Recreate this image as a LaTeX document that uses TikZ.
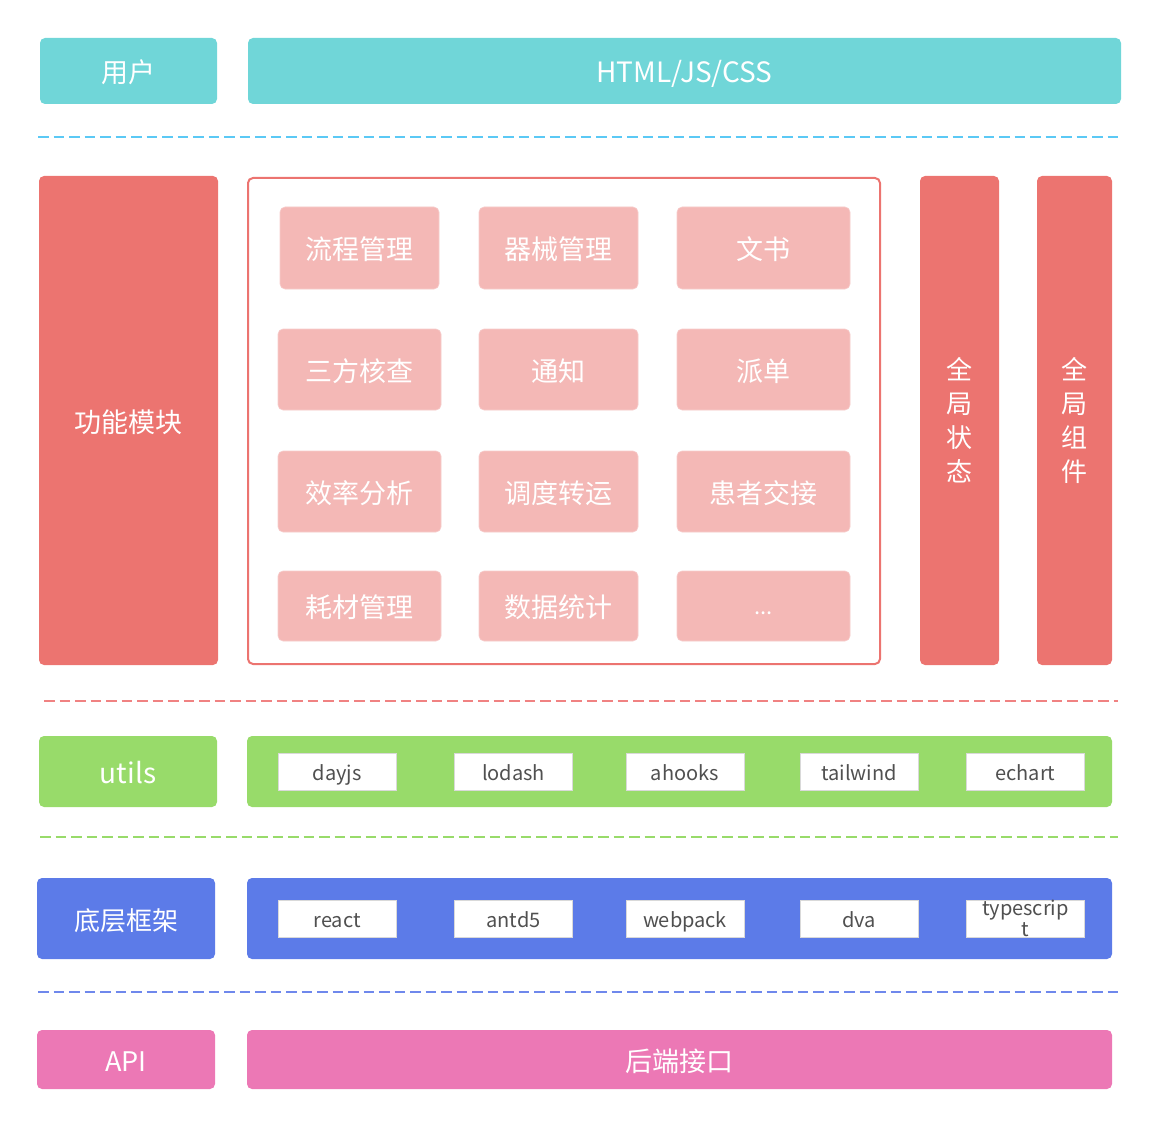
\documentclass[tikz,border=0pt]{standalone}
\usepackage{fontspec}
\setmainfont{Noto Sans CJK SC}
\definecolor{cyanbox}{HTML}{70D6D8}
\definecolor{cyandash}{HTML}{5BC9F5}
\definecolor{redbox}{HTML}{EC7470}
\definecolor{reddash}{HTML}{F08282}
\definecolor{pinkcell}{HTML}{F4B8B6}
\definecolor{greenbox}{HTML}{98DB6A}
\definecolor{bluebox}{HTML}{5C7BE8}
\definecolor{bluedash}{HTML}{6F88EC}
\definecolor{magbox}{HTML}{EC78B5}
\definecolor{graytext}{HTML}{505050}
\tikzset{
  blk/.style={rounded corners=5pt, inner sep=0pt, text=white, font=\fontsize{27}{34}\selectfont, align=center},
  onel/.style={text height=25.6pt, text depth=2pt},
  cell/.style={blk, onel, fill=pinkcell, draw=pinkcell!70!white, line width=0.6pt},
  tagbase/.style={fill=white, draw=white!85!black, line width=0.4pt, inner sep=0pt, minimum width=118, minimum height=37, text=graytext, font=\fontsize{20}{21}\selectfont, align=center},
  tag/.style={tagbase, text height=18pt, text depth=1pt},
  sep/.style={line width=2.6pt, dash pattern=on 10.5pt off 5pt},
}
\begin{document}
\begin{tikzpicture}[x=1pt,y=-1pt]
\useasboundingbox (0,0) rectangle (1159,1126);
% row 1
\node[blk, onel, fill=cyanbox, minimum width=177, minimum height=66] (user) at (128.5,71) {用户};
\node[blk, onel, fill=cyanbox, minimum width=873, minimum height=66, font=\fontsize{28}{30}\selectfont] (html) at (684.5,71) {HTML/JS/CSS};
\draw[sep, cyandash] (38,137) -- (1120,137);
% row 2
\node[blk, onel, fill=redbox, minimum width=179, minimum height=489] (func) at (128.5,420.5) {功能模块};
\node[rounded corners=5pt, draw=redbox, line width=2pt, fill=white, minimum width=632, minimum height=486, inner sep=0pt] (modules) at (564,421) {};
\node[blk, fill=redbox, minimum width=79, minimum height=489, font=\fontsize{26}{34}\selectfont] (state) at (959.5,420.5) {全\\局\\状\\态};
\node[blk, fill=redbox, minimum width=75, minimum height=489, font=\fontsize{26}{34}\selectfont] (comp) at (1074.5,420.5) {全\\局\\组\\件};
% cells
\node[cell, minimum width=159, minimum height=82] (c11) at (359.5,248) {流程管理};
\node[cell, minimum width=159, minimum height=82] (c12) at (558.5,248) {器械管理};
\node[cell, minimum width=173, minimum height=82] (c13) at (763.5,248) {文书};
\node[cell, minimum width=163, minimum height=81] (c21) at (359.5,369.5) {三方核查};
\node[cell, minimum width=159, minimum height=81] (c22) at (558.5,369.5) {通知};
\node[cell, minimum width=173, minimum height=81] (c23) at (763.5,369.5) {派单};
\node[cell, minimum width=163, minimum height=81] (c31) at (359.5,491.5) {效率分析};
\node[cell, minimum width=159, minimum height=81] (c32) at (558.5,491.5) {调度转运};
\node[cell, minimum width=173, minimum height=81] (c33) at (763.5,491.5) {患者交接};
\node[cell, minimum width=163, minimum height=70] (c41) at (359.5,606) {耗材管理};
\node[cell, minimum width=159, minimum height=70] (c42) at (558.5,606) {数据统计};
\node[cell, minimum width=173, minimum height=70, font=\fontsize{22}{24}\selectfont, text height=17pt, text depth=1pt] (c43) at (763.5,606) {...};
\draw[sep, reddash] (44,701) -- (1118,701);
% utils
\node[blk, onel, fill=greenbox, minimum width=178, minimum height=71, font=\fontsize{28}{30}\selectfont] (utils) at (128,771.5) {utils};
\node[blk, fill=greenbox, minimum width=865, minimum height=71] (utilbar) at (679.5,771.5) {};
\node[tag] (dayjs) at (337,771.5) {dayjs};
\node[tag] (lodash) at (513.5,771.5) {lodash};
\node[tag] (ahooks) at (685,771.5) {ahooks};
\node[tag] (tailwind) at (859,771.5) {tailwind};
\node[tag] (echart) at (1025.5,771.5) {echart};
\draw[sep, greenbox] (40,837) -- (1118,837);
% base
\node[blk, onel, fill=bluebox, minimum width=178, minimum height=81, font=\fontsize{26}{30}\selectfont] (base) at (126,918.5) {底层框架};
\node[blk, fill=bluebox, minimum width=865, minimum height=81] (basebar) at (679.5,918.5) {};
\node[tag] (react) at (337,918.5) {react};
\node[tag] (antd) at (513.5,918.5) {antd5};
\node[tag] (webpack) at (685,918.5) {webpack};
\node[tag] (dva) at (859,918.5) {dva};
\node[tagbase] (ts) at (1025.5,918.5) {typescrip\\t};
\draw[sep, bluedash] (38,992) -- (1118,992);
% api
\node[blk, onel, fill=magbox, minimum width=178, minimum height=59] (api) at (126,1059.5) {API};
\node[blk, onel, fill=magbox, minimum width=865, minimum height=59] (backend) at (679.5,1059.5) {后端接口};
\end{tikzpicture}
\end{document}
